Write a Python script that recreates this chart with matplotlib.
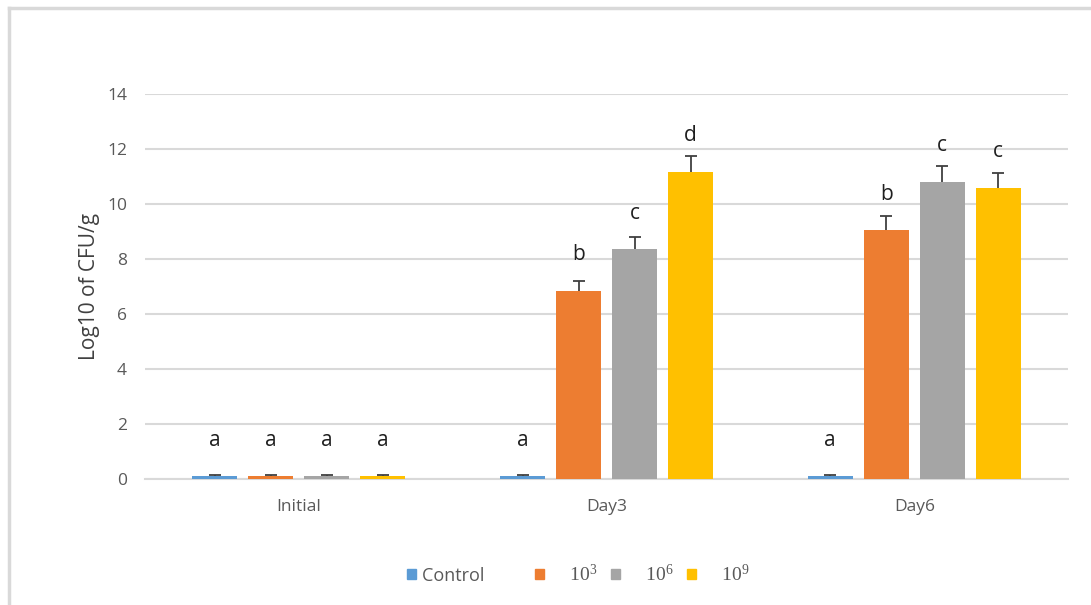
import numpy as np
import matplotlib.pyplot as plt
from matplotlib.lines import Line2D
from matplotlib.patches import Patch

# Counts per sampling day for each inoculum level
days = ["Initial", "Day3", "Day6"]
series = ["Control", "10^3", "10^6", "10^9"]
control = [0.10, 0.10, 0.10]
dose_1e3 = [0.10, 6.84, 9.05]
dose_1e6 = [0.10, 8.36, 10.80]
dose_1e9 = [0.10, 11.16, 10.58]
err_control = [0.05, 0.05, 0.05]
err_1e3 = [0.05, 0.36, 0.50]
err_1e6 = [0.05, 0.44, 0.58]
err_1e9 = [0.05, 0.58, 0.55]
letters_control = ["a", "a", "a"]
letters_1e3 = ["a", "b", "b"]
letters_1e6 = ["a", "c", "c"]
letters_1e9 = ["a", "d", "c"]

colors = ["#5B9BD5", "#ED7D31", "#A5A5A5", "#FFC000"]
values = [control, dose_1e3, dose_1e6, dose_1e9]
errors = [err_control, err_1e3, err_1e6, err_1e9]
letters = [letters_control, letters_1e3, letters_1e6, letters_1e9]

plt.rcParams["font.family"] = ["Open Sans", "DejaVu Sans"]

fig = plt.figure(figsize=(10.91, 6.05), dpi=100)
ax = fig.add_axes([0.133, 0.208, 0.846, 0.637])

# light frame around the chart area
fig.add_artist(Line2D([0.008, 0.008], [0.0, 0.987], color="#d9d9d9", lw=2.5))
fig.add_artist(Line2D([0.008, 1.0], [0.987, 0.987], color="#d9d9d9", lw=2.5))

x = np.arange(len(days))
width = 0.146
step = 0.182
for i, (vals, errs, labs, col) in enumerate(zip(values, errors, letters, colors)):
    pos = x + (i - 1.5) * step
    ax.bar(pos, vals, width, color=col, zorder=3)
    eb = ax.errorbar(pos, vals, yerr=[np.zeros(len(errs)), errs], fmt="none",
                     ecolor="#404040", elinewidth=1.3, capsize=4.5, capthick=1.3, zorder=4)
    eb[1][0].set_visible(False)  # only the upper cap
    for px, v, lab in zip(pos, vals, labs):
        ax.annotate(lab, (px, v), xytext=(0, 36), textcoords="offset pixels",
                    ha="center", va="center", fontsize=15, color="#1f1f1f")

ax.set_xlim(-0.50, 2.50)
ax.set_ylim(0, 14)
ax.set_yticks(np.arange(0, 15, 2))
ax.set_xticks(x)
ax.set_xticklabels(days)
ax.yaxis.grid(True, color="#d9d9d9", lw=1.5, zorder=0)
for s in ["top", "right", "left"]:
    ax.spines[s].set_visible(False)
ax.spines["bottom"].set_color("#d9d9d9")
ax.spines["bottom"].set_linewidth(1.5)
ax.tick_params(axis="both", length=0, labelsize=12.5, colors="#595959")
ax.tick_params(axis="y", pad=13)
ax.tick_params(axis="x", pad=14)
ax.set_ylabel("Log10 of CFU/g", fontsize=15, color="#404040", labelpad=5)

handles = [Patch(color=c) for c in colors]
labels = ["Control" + " " * 8, "    $\\mathregular{10^3}$", "    $\\mathregular{10^6}$",
          "    $\\mathregular{10^9}$"]
leg = fig.legend(handles, labels, loc="center", bbox_to_anchor=(0.530, 0.051), ncol=4,
                 frameon=False, handlelength=0.5, handleheight=0.5, handletextpad=0.33,
                 columnspacing=0.75, fontsize=13)
for i, t in enumerate(leg.get_texts()):
    t.set_color("#595959")
    if i > 0:
        t.set_family("Liberation Serif")
        t.set_fontsize(14)

fig.savefig("out.png", dpi=100)
